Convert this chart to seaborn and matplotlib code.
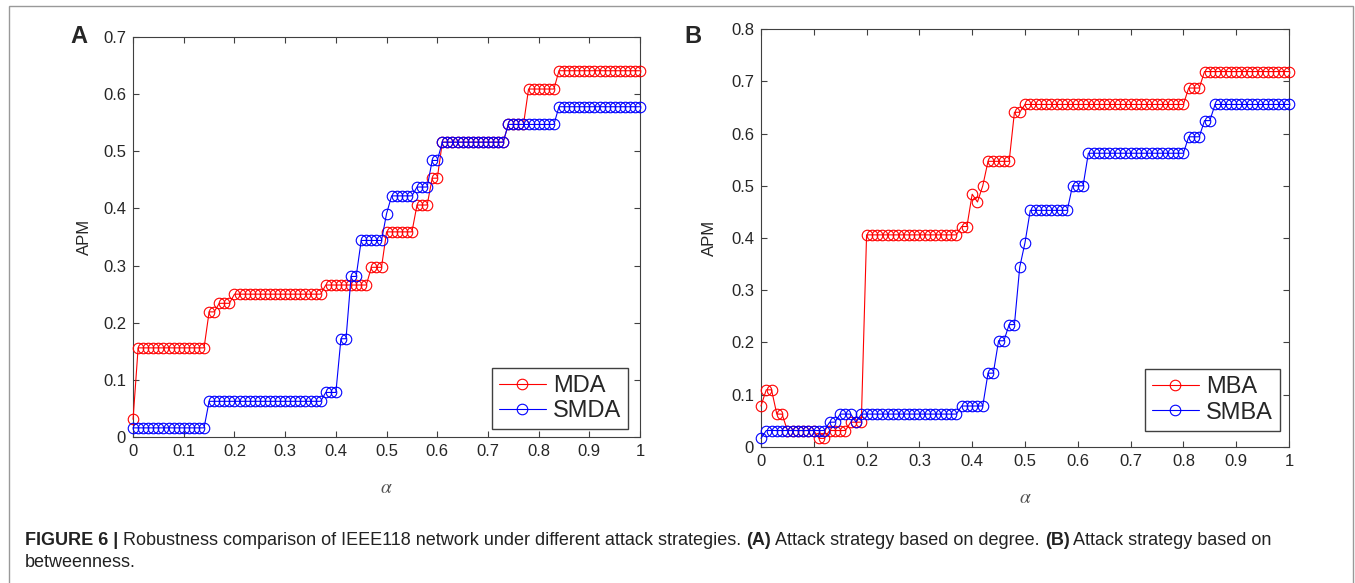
import numpy as np
import pandas as pd
import matplotlib
matplotlib.use('Agg')
import matplotlib.pyplot as plt
from matplotlib.ticker import FuncFormatter, MultipleLocator
from matplotlib.patches import Rectangle
import seaborn as sns

# alpha grid, 0 .. 1 in steps of 0.01
alpha = np.round(np.arange(101) * 0.01, 2)

# panel A, degree based attacks
mda = [0.031, 0.156, 0.156, 0.156, 0.156, 0.156, 0.156, 0.156, 0.156, 0.156,
       0.156, 0.156, 0.156, 0.156, 0.156, 0.219, 0.219, 0.234, 0.234, 0.234,
       0.25, 0.25, 0.25, 0.25, 0.25, 0.25, 0.25, 0.25, 0.25, 0.25,
       0.25, 0.25, 0.25, 0.25, 0.25, 0.25, 0.25, 0.25, 0.266, 0.266,
       0.266, 0.266, 0.266, 0.266, 0.266, 0.266, 0.266, 0.297, 0.297, 0.297,
       0.359, 0.359, 0.359, 0.359, 0.359, 0.359, 0.406, 0.406, 0.406, 0.453,
       0.453, 0.516, 0.516, 0.516, 0.516, 0.516, 0.516, 0.516, 0.516, 0.516,
       0.516, 0.516, 0.516, 0.516, 0.547, 0.547, 0.547, 0.547, 0.609, 0.609,
       0.609, 0.609, 0.609, 0.609, 0.641, 0.641, 0.641, 0.641, 0.641, 0.641,
       0.641, 0.641, 0.641, 0.641, 0.641, 0.641, 0.641, 0.641, 0.641, 0.641,
       0.641]
smda = [0.016, 0.016, 0.016, 0.016, 0.016, 0.016, 0.016, 0.016, 0.016, 0.016,
        0.016, 0.016, 0.016, 0.016, 0.016, 0.0625, 0.0625, 0.0625, 0.0625, 0.0625,
        0.0625, 0.0625, 0.0625, 0.0625, 0.0625, 0.0625, 0.0625, 0.0625, 0.0625, 0.0625,
        0.0625, 0.0625, 0.0625, 0.0625, 0.0625, 0.0625, 0.0625, 0.0625, 0.078, 0.078,
        0.078, 0.172, 0.172, 0.281, 0.281, 0.344, 0.344, 0.344, 0.344, 0.344,
        0.391, 0.422, 0.422, 0.422, 0.422, 0.422, 0.4375, 0.4375, 0.4375, 0.484,
        0.484, 0.516, 0.516, 0.516, 0.516, 0.516, 0.516, 0.516, 0.516, 0.516,
        0.516, 0.516, 0.516, 0.516, 0.547, 0.547, 0.547, 0.547, 0.547, 0.547,
        0.547, 0.547, 0.547, 0.547, 0.578, 0.578, 0.578, 0.578, 0.578, 0.578,
        0.578, 0.578, 0.578, 0.578, 0.578, 0.578, 0.578, 0.578, 0.578, 0.578,
        0.578]

# panel B, betweenness based attacks
mba = [0.078, 0.109, 0.109, 0.0625, 0.0625, 0.031, 0.031, 0.031, 0.031, 0.031,
       0.031, 0.016, 0.016, 0.031, 0.031, 0.031, 0.031, 0.047, 0.047, 0.047,
       0.406, 0.406, 0.406, 0.406, 0.406, 0.406, 0.406, 0.406, 0.406, 0.406,
       0.406, 0.406, 0.406, 0.406, 0.406, 0.406, 0.406, 0.406, 0.422, 0.422,
       0.484, 0.469, 0.5, 0.547, 0.547, 0.547, 0.547, 0.547, 0.641, 0.641,
       0.656, 0.656, 0.656, 0.656, 0.656, 0.656, 0.656, 0.656, 0.656, 0.656,
       0.656, 0.656, 0.656, 0.656, 0.656, 0.656, 0.656, 0.656, 0.656, 0.656,
       0.656, 0.656, 0.656, 0.656, 0.656, 0.656, 0.656, 0.656, 0.656, 0.656,
       0.656, 0.6875, 0.6875, 0.6875, 0.719, 0.719, 0.719, 0.719, 0.719, 0.719,
       0.719, 0.719, 0.719, 0.719, 0.719, 0.719, 0.719, 0.719, 0.719, 0.719,
       0.719]
smba = [0.016, 0.031, 0.031, 0.031, 0.031, 0.031, 0.031, 0.031, 0.031, 0.031,
        0.031, 0.031, 0.031, 0.047, 0.047, 0.0625, 0.0625, 0.0625, 0.047, 0.0625,
        0.0625, 0.0625, 0.0625, 0.0625, 0.0625, 0.0625, 0.0625, 0.0625, 0.0625, 0.0625,
        0.0625, 0.0625, 0.0625, 0.0625, 0.0625, 0.0625, 0.0625, 0.0625, 0.078, 0.078,
        0.078, 0.078, 0.078, 0.141, 0.141, 0.203, 0.203, 0.234, 0.234, 0.344,
        0.391, 0.453, 0.453, 0.453, 0.453, 0.453, 0.453, 0.453, 0.453, 0.5,
        0.5, 0.5, 0.5625, 0.5625, 0.5625, 0.5625, 0.5625, 0.5625, 0.5625, 0.5625,
        0.5625, 0.5625, 0.5625, 0.5625, 0.5625, 0.5625, 0.5625, 0.5625, 0.5625, 0.5625,
        0.5625, 0.594, 0.594, 0.594, 0.625, 0.625, 0.656, 0.656, 0.656, 0.656,
        0.656, 0.656, 0.656, 0.656, 0.656, 0.656, 0.656, 0.656, 0.656, 0.656,
        0.656]

caption1 = [("FIGURE 6 |", True),
            (" Robustness comparison of IEEE118 network under different attack strategies. ", False),
            ("(A)", True), (" Attack strategy based on degree. ", False),
            ("(B)", True), (" Attack strategy based on", False)]
caption2 = [("betweenness.", False)]

sns.set_style('ticks')
plt.rcParams['font.family'] = ['Liberation Sans', 'DejaVu Sans']
plt.rcParams['mathtext.fontset'] = 'stix'

fig = plt.figure(figsize=(13.55, 5.83), dpi=100)
axA = fig.add_axes([0.0982, 0.2504, 0.3742, 0.6861])
axB = fig.add_axes([0.5616, 0.2338, 0.3897, 0.7159])

fmt = FuncFormatter(lambda v, p: '%g' % round(v, 2))


def panel(ax, red, blue, names, ymax, anchor):
    df = pd.DataFrame({'alpha': alpha, names[0]: red, names[1]: blue})
    for col, c in zip(names, ['#ff0000', '#0000ff']):
        sns.lineplot(data=df, x='alpha', y=col, ax=ax, color=c, lw=0.8,
                     marker='o', markersize=7.6, markerfacecolor='none',
                     markeredgecolor=c, markeredgewidth=0.8, label=col,
                     clip_on=False, zorder=3)
    ax.set_xlim(0, 1)
    ax.set_ylim(0, ymax)
    ax.xaxis.set_major_locator(MultipleLocator(0.1))
    ax.yaxis.set_major_locator(MultipleLocator(0.1))
    ax.xaxis.set_major_formatter(fmt)
    ax.yaxis.set_major_formatter(fmt)
    ax.tick_params(direction='in', top=True, right=True, length=4, width=0.8,
                   color='#404040', labelcolor='#262626', labelsize=12, pad=5)
    for s in ax.spines.values():
        s.set_color('#404040')
        s.set_linewidth(0.8)
    ax.set_xlabel(r'$\alpha$', fontsize=14, color='#555555')
    ax.set_ylabel('APM', fontsize=12, color='#262626')
    leg = ax.legend(loc='lower right', bbox_to_anchor=anchor, borderaxespad=0,
                    fontsize=17, fancybox=False, edgecolor='#404040',
                    framealpha=1, handlelength=2.0, handletextpad=0.3,
                    borderpad=0.3, labelspacing=0.15)
    leg.get_frame().set_linewidth(1.0)


panel(axA, mda, smda, ['MDA', 'SMDA'], 0.7, (0.977, 0.019))
panel(axB, mba, smba, ['MBA', 'SMBA'], 0.8, (0.983, 0.038))
axA.xaxis.set_label_coords(0.5, -0.1075)
axA.yaxis.set_label_coords(-0.081, 0.5)
axB.xaxis.set_label_coords(0.5, -0.104)
axB.yaxis.set_label_coords(-0.083, 0.5)

fig.text(0.058, 0.9374, 'A', fontsize=17, fontweight='bold', ha='center', va='center')
fig.text(0.5114, 0.938, 'B', fontsize=17, fontweight='bold', ha='center', va='center')

# outer frame, open at the bottom
fig.patches.append(Rectangle((0.0066, -0.2), 0.9919, 1.1897, transform=fig.transFigure,
                             fill=False, edgecolor='#999999', lw=1.0, clip_on=False))

# caption with mixed weights
cap_font = ['Liberation Sans Narrow', 'Liberation Sans']
renderer = fig.canvas.get_renderer()


def caption_line(parts, x, y):
    for s, bold in parts:
        t = fig.text(x, y, s, fontsize=13, family=cap_font, color='#222222',
                     fontweight='bold' if bold else 'normal', va='baseline')
        bb = t.get_window_extent(renderer)
        x = bb.x1 / fig.bbox.width


caption_line(caption1, 0.0185, 0.066)
caption_line(caption2, 0.0185, 0.027)

fig.savefig('out.png', dpi=100)
